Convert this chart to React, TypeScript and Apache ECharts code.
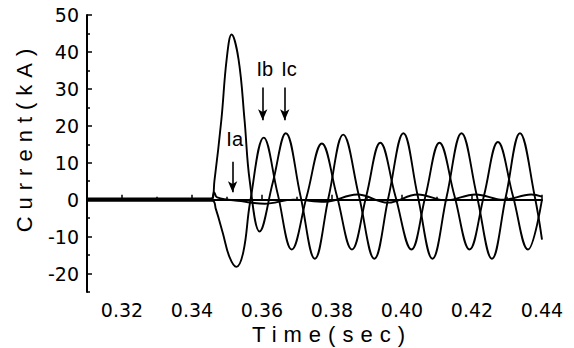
import React, { useEffect, useRef } from 'react';
import * as echarts from 'echarts';

// Phase currents (time in s, current in kA)
const iaPoints: [number, number][] = [
  [0.31, 0.3], [0.3455, 0.3], [0.3463, 2.0], [0.3472, 0.6], [0.354, -0.4],
  [0.3608, -1.1], [0.369, 0.0], [0.378, -0.6], [0.3872, 1.4], [0.396, -0.8],
  [0.4045, 1.4], [0.4125, -0.2], [0.421, 1.4], [0.429, 0.0], [0.4369, 1.4], [0.44, 0.8],
];
const ibPoints: [number, number][] = [
  [0.31, -0.3], [0.3458, -0.3], [0.3468, -2.5], [0.3488, -9], [0.3507, -15.5], [0.3527, -18.2],
  [0.3547, -14], [0.3566, -0.7], [0.3605, 16.8], [0.3645, 1.5], [0.3685, -13.5], [0.3728, 1],
  [0.3771, 15.2], [0.3814, 1], [0.3857, -13.5], [0.3898, 1], [0.3938, 15.4],
  [0.3981, 1], [0.4027, -13.5], [0.4067, 1], [0.4107, 15.4], [0.415, 1],
  [0.4193, -13.5], [0.4234, 1], [0.4274, 15.6], [0.4317, 1], [0.436, -13.5], [0.44, 0],
];
const icPoints: [number, number][] = [
  [0.31, 0], [0.3455, 0], [0.3464, 5], [0.3484, 21.7], [0.3499, 38], [0.3513, 44.7],
  [0.3533, 38], [0.355, 21.7], [0.3565, 5], [0.3593, -8.6], [0.3631, 4.7],
  [0.3668, 18], [0.371, 1], [0.3751, -16], [0.3791, 1], [0.3832, 17.6],
  [0.3877, 1], [0.3921, -16], [0.3962, 1], [0.4004, 18], [0.4045, 1],
  [0.4087, -16], [0.4128, 1], [0.417, 18], [0.4214, 1], [0.4257, -16],
  [0.4297, 1], [0.4337, 18], [0.4379, 1], [0.44, -10.8],
];

const yTickValues = [-20, -10, 0, 10, 20, 30, 40, 50];
const yMinorTickValues = [-25, -15, -5, 5, 15, 25, 35, 45];
const xTickValues = [0.32, 0.34, 0.36, 0.38, 0.4, 0.42, 0.44];
const xMinorTickValues = [0.33, 0.35, 0.37, 0.39, 0.41, 0.43];

// Annotations (data units)
const annotationNames = ['Ia', 'Ib', 'Ic'];
const annotationLabelTime = [0.3522, 0.3608, 0.3677];
const annotationLabelValue = [16.5, 35.5, 35.5];
const arrowTime = [0.3516, 0.3602, 0.3665];
const arrowStart = [10.3, 30.4, 30.4];
const arrowEnd = [2.0, 21.5, 21.5];

const TITLE_FONT = '"Liberation Sans", Arial, sans-serif';
const TICK_FONT = '"DejaVu Sans", sans-serif';

export default function App() {
  const ref = useRef<HTMLDivElement>(null);

  useEffect(() => {
    const el = ref.current!;
    const chart = echarts.init(el, null, { renderer: 'svg' });

    const lineSeries = (name: string, data: [number, number][], extra: any = {}) => ({
      name,
      type: 'line',
      data,
      xAxisIndex: 0,
      yAxisIndex: 0,
      showSymbol: false,
      smooth: 0.4,
      lineStyle: { color: '#000', width: 1.9 },
      silent: true,
      z: 3,
      ...extra,
    });

    const option: any = {
      animation: false,
      backgroundColor: '#fff',
      grid: { left: 87, right: 32, top: 15, bottom: 56, containLabel: false },
      xAxis: [
        {
          type: 'value', min: 0.31, max: 0.44, position: 'bottom',
          axisLine: { show: true, lineStyle: { color: '#000', width: 2 } },
          axisTick: { show: true, inside: true, length: 5, customValues: xTickValues, lineStyle: { color: '#000', width: 1.5 } },
          axisLabel: {
            customValues: xTickValues, formatter: (v: number) => v.toFixed(2),
            fontFamily: TICK_FONT, fontSize: 19, color: '#000', margin: 8,
          },
          splitLine: { show: false },
        },
        {
          type: 'value', min: 0.31, max: 0.44, position: 'bottom',
          axisLine: { show: false },
          axisTick: { show: true, inside: true, length: 3, customValues: xMinorTickValues, lineStyle: { color: '#000', width: 1.5 } },
          axisLabel: { show: false },
          splitLine: { show: false },
        },
      ],
      yAxis: [
        {
          type: 'value', min: -25, max: 50, position: 'left',
          axisLine: { show: true, lineStyle: { color: '#000', width: 2 } },
          axisTick: { show: true, inside: true, length: 5, customValues: yTickValues, lineStyle: { color: '#000', width: 1.5 } },
          axisLabel: {
            customValues: yTickValues, formatter: (v: number) => String(v),
            fontFamily: TICK_FONT, fontSize: 19, color: '#000', margin: 8,
          },
          splitLine: { show: false },
        },
        {
          type: 'value', min: -25, max: 50, position: 'left',
          axisLine: { show: false },
          axisTick: { show: true, inside: true, length: 3, customValues: yMinorTickValues, lineStyle: { color: '#000', width: 1.5 } },
          axisLabel: { show: false },
          splitLine: { show: false },
        },
      ],
      series: [
        lineSeries('Ia', iaPoints, {
          markLine: {
            silent: true,
            symbol: ['none', 'arrow'],
            symbolSize: [7, 11],
            label: { show: false },
            lineStyle: { color: '#000', width: 1.6, type: 'solid' },
            data: arrowTime.map((t, i) => [
              { coord: [t, arrowStart[i]] },
              { coord: [t, arrowEnd[i]] },
            ]),
          },
          markPoint: {
            silent: true,
            symbol: 'rect',
            symbolSize: 1,
            itemStyle: { color: 'rgba(0,0,0,0)' },
            label: {
              show: true, position: 'inside', formatter: (p: any) => p.name,
              color: '#000', fontFamily: TITLE_FONT, fontSize: 20,
            },
            data: annotationNames.map((n, i) => ({
              name: n, coord: [annotationLabelTime[i], annotationLabelValue[i]],
            })),
          },
        }),
        lineSeries('Ib', ibPoints),
        lineSeries('Ic', icPoints),
      ],
      graphic: [
        {
          type: 'text', x: 332, y: 334, silent: true,
          style: {
            text: 'Time(sec)', fill: '#000', font: `22px ${TITLE_FONT}`,
            textAlign: 'center', textVerticalAlign: 'middle',
          },
        },
        {
          type: 'text', x: 24, y: 137, rotation: Math.PI / 2, silent: true,
          style: {
            text: 'Current(kA)', fill: '#000', font: `22px ${TITLE_FONT}`,
            textAlign: 'center', textVerticalAlign: 'middle',
          },
        },
      ],
    };

    chart.setOption(option);

    const applySpacing = () => {
      el.querySelectorAll('text').forEach((t) => {
        const s = t.textContent;
        if (s === 'Time(sec)' || s === 'Current(kA)') {
          t.setAttribute('letter-spacing', '7');
        }
      });
    };
    chart.on('finished', applySpacing);
    const timer = setTimeout(applySpacing, 30);
    applySpacing();

    return () => {
      clearTimeout(timer);
      chart.dispose();
    };
  }, []);

  return (
    <div
      ref={ref}
      style={{ position: 'fixed', left: 0, top: 0, width: 574, height: 348, background: '#fff' }}
    />
  );
}
